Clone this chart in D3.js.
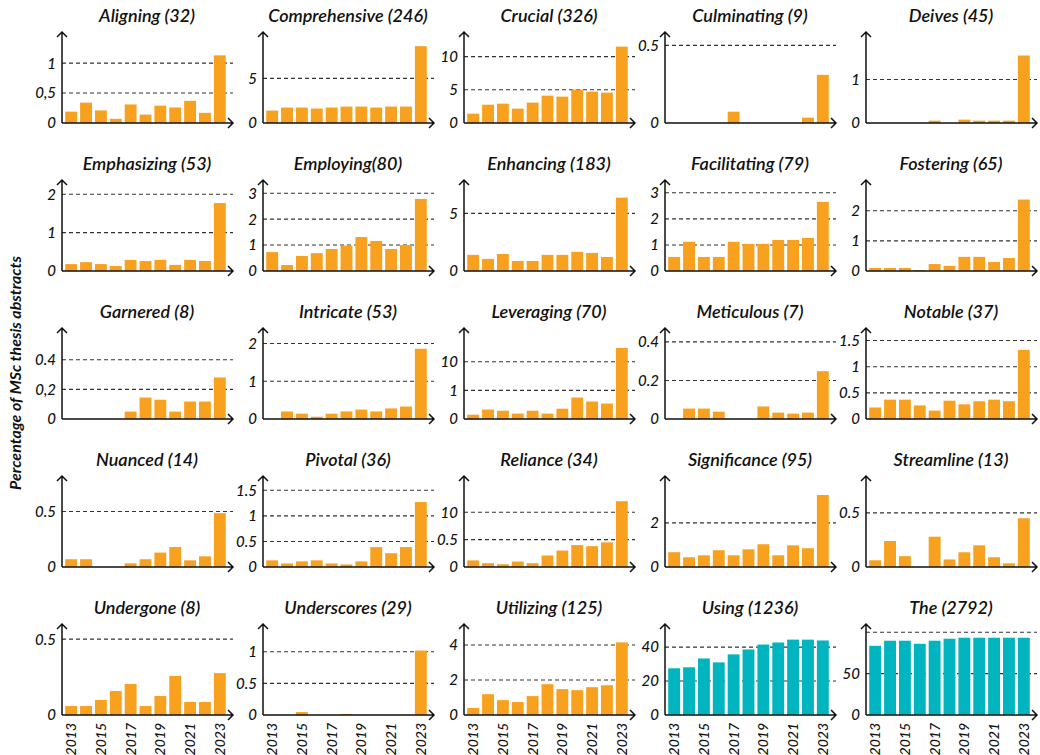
<!DOCTYPE html>
<html><head><meta charset="utf-8">
<script src="https://cdn.jsdelivr.net/npm/d3@7"></script>
<style>
body{margin:0;background:#fff}
svg{display:block}
text{font-family:Lato,'Open Sans',sans-serif;font-style:italic;fill:#111}
</style>
</head><body>
<svg id="chart" width="1040" height="755"></svg>
<script>
const years = [2013,2014,2015,2016,2017,2018,2019,2020,2021,2022,2023];
const yearTickLabels = ["2013","2015","2017","2019","2021","2023"];
const yTitle = "Percentage of MSc thesis abstracts";

const titles = ["Aligning (32)","Comprehensive (246)","Crucial (326)","Culminating (9)","Deives (45)",
  "Emphasizing (53)","Employing(80)","Enhancing (183)","Facilitating (79)","Fostering (65)",
  "Garnered (8)","Intricate (53)","Leveraging (70)","Meticulous (7)","Notable (37)",
  "Nuanced (14)","Pivotal (36)","Reliance (34)","Significance (95)","Streamline (13)",
  "Undergone (8)","Underscores (29)","Utilizing (125)","Using (1236)","The (2792)"];

const aligning      = [0.19,0.34,0.21,0.07,0.31,0.14,0.29,0.26,0.37,0.17,1.13];
const comprehensive = [1.39,1.73,1.73,1.62,1.73,1.84,1.84,1.73,1.84,1.84,8.61];
const crucial       = [1.41,2.76,2.91,2.16,3.07,4.12,3.97,5.03,4.72,4.57,11.5];
const culminating   = [0,0,0,0,0.073,0,0,0,0,0.034,0.31];
const deives        = [0,0,0,0,0.054,0,0.077,0.054,0.054,0.054,1.55];
const emphasizing   = [0.18,0.23,0.18,0.13,0.29,0.26,0.29,0.16,0.29,0.26,1.77];
const employing     = [0.73,0.23,0.58,0.69,0.85,0.98,1.31,1.16,0.85,1.0,2.78];
const enhancing     = [1.40,1.05,1.48,0.87,0.87,1.40,1.40,1.66,1.57,1.22,6.37];
const facilitating  = [0.54,1.12,0.54,0.54,1.12,1.04,1.04,1.19,1.19,1.27,2.65];
const fostering     = [0.10,0.10,0.10,0.03,0.23,0.17,0.47,0.47,0.30,0.43,2.37];
const garnered      = [0,0,0,0,0.05,0.145,0.13,0.05,0.118,0.118,0.28];
const intricate     = [0,0.20,0.14,0.06,0.14,0.20,0.25,0.20,0.28,0.33,1.86];
const leveraging    = [0.15,0.33,0.29,0.19,0.29,0.19,0.36,0.75,0.61,0.54,2.48];
const meticulous    = [0,0.054,0.054,0.038,0,0,0.065,0.033,0.028,0.033,0.248];
const notable       = [0.22,0.37,0.37,0.26,0.16,0.35,0.28,0.34,0.37,0.34,1.32];
const nuanced       = [0.07,0.07,0,0,0.033,0.07,0.13,0.18,0.06,0.096,0.485];
const pivotal       = [0.13,0.07,0.11,0.13,0.07,0.05,0.11,0.39,0.27,0.39,1.27];
const reliance      = [0.12,0.07,0.05,0.10,0.07,0.21,0.30,0.40,0.38,0.45,1.20];
const significance  = [0.67,0.44,0.53,0.76,0.53,0.80,1.03,0.53,0.98,0.85,3.26];
const streamline    = [0.062,0.24,0.10,0,0.28,0.07,0.136,0.20,0.09,0.034,0.45];
const undergone     = [0.059,0.059,0.099,0.158,0.204,0.059,0.125,0.257,0.086,0.086,0.276];
const underscores   = [0,0,0.047,0,0,0.016,0,0,0,0,1.02];
const utilizing     = [0.40,1.19,0.85,0.74,1.08,1.76,1.48,1.42,1.59,1.70,4.15];
const using         = [27.5,28.1,33.3,31.0,35.7,38.6,41.5,42.7,44.4,44.4,43.9];
const the           = [83.6,89.8,89.8,86.1,89.8,92.2,93.4,93.4,93.4,93.4,93.4];

const seriesValues = [aligning,comprehensive,crucial,culminating,deives,
  emphasizing,employing,enhancing,facilitating,fostering,
  garnered,intricate,leveraging,meticulous,notable,
  nuanced,pivotal,reliance,significance,streamline,
  undergone,underscores,utilizing,using,the];

const yTop = [1.52,10.2,13.7,0.586,2.09,
  2.37,3.51,7.9,3.49,3.02,
  0.614,2.41,3.18,0.472,1.74,
  0.82,1.78,1.66,4.12,0.84,
  0.60,1.44,5.2,53.6,110];

const tickValues = [[0,0.5,1],[0,5],[0,5,10],[0,0.5],[0,1],
  [0,1,2],[0,1,2,3],[0,5],[0,1,2,3],[0,1,2],
  [0,0.2,0.4],[0,1,2],[0,1,2],[0,0.2,0.4],[0,0.5,1,1.5],
  [0,0.5],[0,0.5,1,1.5],[0,0.5,1],[0,2],[0,0.5],
  [0,0.5],[0,0.5,1],[0,2,4],[0,20,40],[0,50,100]];
const tickLabels = [["0","0,5","1"],["0","5"],["0","5","10"],["0","0.5"],["0","1"],
  ["0","1","2"],["0","1","2","3"],["0","5"],["0","1","2","3"],["0","1","2"],
  ["0","0,2","0.4"],["0","1","2"],["0","1","10"],["0","0.2","0.4"],["0","0.5","1","1.5"],
  ["0","0.5"],["0","0.5","1","1.5"],["0","0.5","10"],["0","2"],["0","0.5"],
  ["0","0.5"],["0","0.5","1"],["0","2","4"],["0","20","40"],["0","50",""]];

const seriesColors = ["#F8A11F","#00B5BF"];

const svg = d3.select("#chart");
const nCols = 5;
const colX0 = c => 62 + 201 * c;
const rowZero = r => 123 + 148 * r;
const plotH = 91;
const axisLen = 171;

seriesValues.forEach((vals, i) => {
  const c = i % nCols, r = Math.floor(i / nCols);
  const x0 = colX0(c), y0 = rowZero(r);
  const g = svg.append("g");
  const x = d3.scaleBand().domain(years).range([x0 + 1, x0 + 166]).paddingInner(0.2).paddingOuter(0.15);
  const y = d3.scaleLinear().domain([0, yTop[i]]).range([y0, y0 - plotH]);
  const color = i >= 23 ? seriesColors[1] : seriesColors[0];

  g.selectAll("line.grid").data(tickValues[i].filter(v => v > 0)).join("line")
    .attr("x1", x0).attr("x2", x0 + axisLen)
    .attr("y1", d => y(d)).attr("y2", d => y(d))
    .attr("stroke", "#333").attr("stroke-width", 1.1).attr("stroke-dasharray", "4,3");

  g.selectAll("rect").data(years.map((yr, k) => ({yr, v: vals[k]})).filter(d => d.v > 0)).join("rect")
    .attr("x", d => x(d.yr)).attr("width", x.bandwidth())
    .attr("y", d => y(d.v)).attr("height", d => y0 - y(d.v))
    .attr("fill", color);

  g.append("path")
    .attr("d", `M${x0},${y0} L${x0 + axisLen},${y0} M${x0 + axisLen - 5},${y0 - 5} L${x0 + axisLen},${y0} L${x0 + axisLen - 5},${y0 + 5}`)
    .attr("fill", "none").attr("stroke", "#111").attr("stroke-width", 1.5);
  g.append("path")
    .attr("d", `M${x0},${y0} L${x0},${y0 - plotH} M${x0 - 5},${y0 - plotH + 5} L${x0},${y0 - plotH} L${x0 + 5},${y0 - plotH + 5}`)
    .attr("fill", "none").attr("stroke", "#111").attr("stroke-width", 1.5);

  g.selectAll("text.tick").data(tickValues[i]).join("text")
    .attr("x", x0 - 6).attr("y", d => y(d)).attr("dy", "0.36em")
    .attr("text-anchor", "end").attr("font-size", 15).attr("font-weight", 500)
    .text((d, k) => tickLabels[i][k]);

  g.append("text").attr("x", x0 + 85).attr("y", y0 - 101)
    .attr("text-anchor", "middle").attr("font-size", 18).attr("font-weight", 600)
    .text(titles[i]);

  if (r === 4) {
    g.selectAll("text.xt").data(yearTickLabels).join("text")
      .attr("transform", d => `translate(${x(+d) + x.bandwidth() / 2 + 5},${y0 + 8}) rotate(-90)`)
      .attr("text-anchor", "end").attr("font-size", 14).attr("font-weight", 500)
      .text(d => d);
  }
});

svg.append("text")
  .attr("transform", "translate(21,373) rotate(-90)")
  .attr("text-anchor", "middle").attr("font-size", 16).attr("font-weight", 700)
  .text(yTitle);
</script>
</body></html>
